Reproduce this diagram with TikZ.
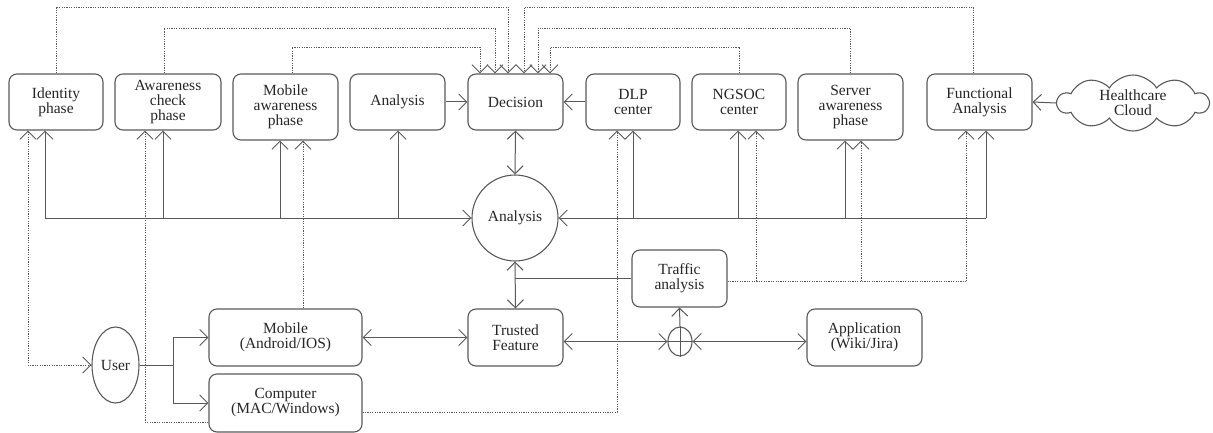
\documentclass[tikz,border=0pt]{standalone}
\usepackage{fontspec}
\setmainfont{Liberation Serif}
\usetikzlibrary{arrows.meta,shapes.geometric,shapes.symbols}
\begin{document}
\begin{tikzpicture}[x=1pt,y=-1pt,
  ln/.style={line width=1pt,draw=black!65},
  dotc/.style={line width=0.8pt,draw=black!65,dash pattern=on 1.2pt off 1.2pt},
  tip/.style={-{Straight Barb[length=8pt,width=16pt,line width=1pt]}},
  tipb/.style={{Straight Barb[length=8pt,width=16pt,line width=1pt]}-{Straight Barb[length=8pt,width=16pt,line width=1pt]}},
  box/.style={draw=black!65,line width=1.1pt,rounded corners=8pt,align=center,inner sep=0pt,
    font=\fontsize{15.5}{15}\selectfont,text=black!85},
  every node/.append style={font=\fontsize{15.5}{15}\selectfont,text=black!85}
]
\useasboundingbox (0,0) rectangle (1213,433);
% top row
\node[box,minimum width=94pt,minimum height=56pt] (id) at (56,102) {Identity\\phase};
\node[box,minimum width=106pt,minimum height=56pt] (awc) at (168,102) {Awareness\\check\\phase};
\node[box,minimum width=105pt,minimum height=66pt] (mobaw) at (285.5,107) {Mobile\\awareness\\phase};
\node[box,minimum width=95pt,minimum height=56pt] (anat) at (397.5,102) {Analysis};
\node[box,minimum width=95pt,minimum height=56pt] (dec) at (515.5,102) {Decision};
\node[box,minimum width=94pt,minimum height=56pt] (dlp) at (633,102) {DLP\\center};
\node[box,minimum width=94pt,minimum height=56pt] (ngsoc) at (739,102) {NGSOC\\center};
\node[box,minimum width=105pt,minimum height=66pt] (srv) at (850.5,107) {Server\\awareness\\phase};
\node[box,minimum width=105pt,minimum height=56pt] (func) at (979.5,102) {Functional\\Analysis};
\node[cloud,draw=black!65,line width=1.1pt,cloud puffs=10,cloud puff arc=115,aspect=2.7,
  minimum width=151pt,minimum height=56pt,inner sep=0pt,align=center] (cloud) at (1133,103) {Healthcare\\Cloud};
% middle
\node[circle,draw=black!65,line width=1.1pt,minimum size=86pt,inner sep=0pt] (circ) at (515,218) {Analysis};
\node[box,minimum width=95pt,minimum height=57pt] (traffic) at (679.5,278.5) {Traffic\\analysis};
% bottom
\node[box,minimum width=153pt,minimum height=57pt] (mobile) at (285.5,337.5) {Mobile\\(Android/IOS)};
\node[box,minimum width=95pt,minimum height=57pt] (trusted) at (515.5,337.5) {Trusted\\Feature};
\node[box,minimum width=153pt,minimum height=58pt] (computer) at (285.5,403) {Computer\\(MAC/Windows)};
\node[box,minimum width=115pt,minimum height=57pt] (app) at (864.5,337.5) {Application\\(Wiki/Jira)};
\node[ellipse,draw=black!65,line width=1.1pt,minimum width=47pt,minimum height=76pt,inner sep=0pt] (user) at (115.5,365) {User};
\node[ellipse,draw=black!65,line width=1.1pt,minimum width=24pt,minimum height=29pt,inner sep=0pt] (junc) at (680,341.5) {};
\draw[ln] (junc.north) -- (junc.south);
\draw[ln] (junc.west) -- (junc.east);

% top row horizontal arrows
\draw[ln,tip] (anat.east) -- (dec.west);
\draw[ln,tip] (dlp.west) -- (dec.east);
\draw[ln,tip] (cloud.west) -- (func.east);
\draw[ln,tipb] (dec.south) -- (circ.north);

% left bus
\coordinate (b1) at (45,218);
\coordinate (b2) at (163,218);
\coordinate (b3) at (280,218);
\coordinate (b4) at (398,218);
\draw[ln,tip] (b1) -- (circ.west);
\draw[ln,tip] (b1) -- (b1 |- id.south);
\draw[ln,tip] (b2) -- (b2 |- awc.south);
\draw[ln,tip] (b3) -- (b3 |- mobaw.south);
\draw[ln,tip] (b4) -- (b4 |- anat.south);
% right bus
\coordinate (c1) at (633,218);
\coordinate (c2) at (738,218);
\coordinate (c3) at (845,218);
\coordinate (c4) at (986,218);
\draw[ln,tip] (c4) -- (circ.east);
\draw[ln,tip] (c1) -- (c1 |- dlp.south);
\draw[ln,tip] (c2) -- (c2 |- ngsoc.south);
\draw[ln,tip] (c3) -- (c3 |- srv.south);
\draw[ln,tip] (c4) -- (c4 |- func.south);

% top dotted feedback to Decision
\coordinate (t1) at (508,7);
\coordinate (t2) at (495,28);
\coordinate (t3) at (480,47);
\coordinate (t4) at (524,7);
\coordinate (t5) at (538,28);
\coordinate (t6) at (550,47);
\draw[dotc,tip] (id.north) |- (t1) -- (t1 |- dec.north);
\draw[dotc,tip] (164,0 |- awc.north) |- (t2) -- (t2 |- dec.north);
\draw[dotc,tip] (292,0 |- mobaw.north) |- (t3) -- (t3 |- dec.north);
\draw[dotc,tip] (973,0 |- func.north) |- (t4) -- (t4 |- dec.north);
\draw[dotc,tip] (srv.north) |- (t5) -- (t5 |- dec.north);
\draw[dotc,tip] (ngsoc.north) |- (t6) -- (t6 |- dec.north);

% user connections
\coordinate (br) at (173,365);
\draw[ln] (user.east) -- (br);
\draw[ln,tip] (br) |- (mobile.west);
\draw[ln,tip] (br) |- (computer.west);
\draw[dotc,tipb] (28,0 |- id.south) |- (user.west);

% bottom connectors
\draw[ln,tipb] (mobile.east) -- (trusted.west);
\draw[ln,tipb] (circ.south) -- (trusted.north);
\draw[ln] (traffic.west) -- (circ.south |- traffic.west);
\draw[ln,tipb] (trusted.east |- junc.west) -- (junc.west);
\draw[ln,tipb] (junc.east) -- (app.west |- junc.east);
\draw[ln,tip] (junc.north) -- (traffic.south);

% dotted lower connectors
\draw[dotc,tip] (303,0 |- mobile.north) -- (303,0 |- mobaw.south);
\draw[dotc,tip] (computer.west |- 0,422) -| (145,0 |- awc.south);
\draw[dotc,tip] (computer.east |- 0,412) -| (617,0 |- dlp.south);
\coordinate (tr) at (966,281);
\draw[dotc] (traffic.east |- tr) -- (tr);
\draw[dotc,tip] (tr) -- (tr |- func.south);
\draw[dotc,tip] (861,281) -- (861,0 |- srv.south);
\draw[dotc,tip] (756,281) -- (756,0 |- ngsoc.south);
\end{tikzpicture}
\end{document}
